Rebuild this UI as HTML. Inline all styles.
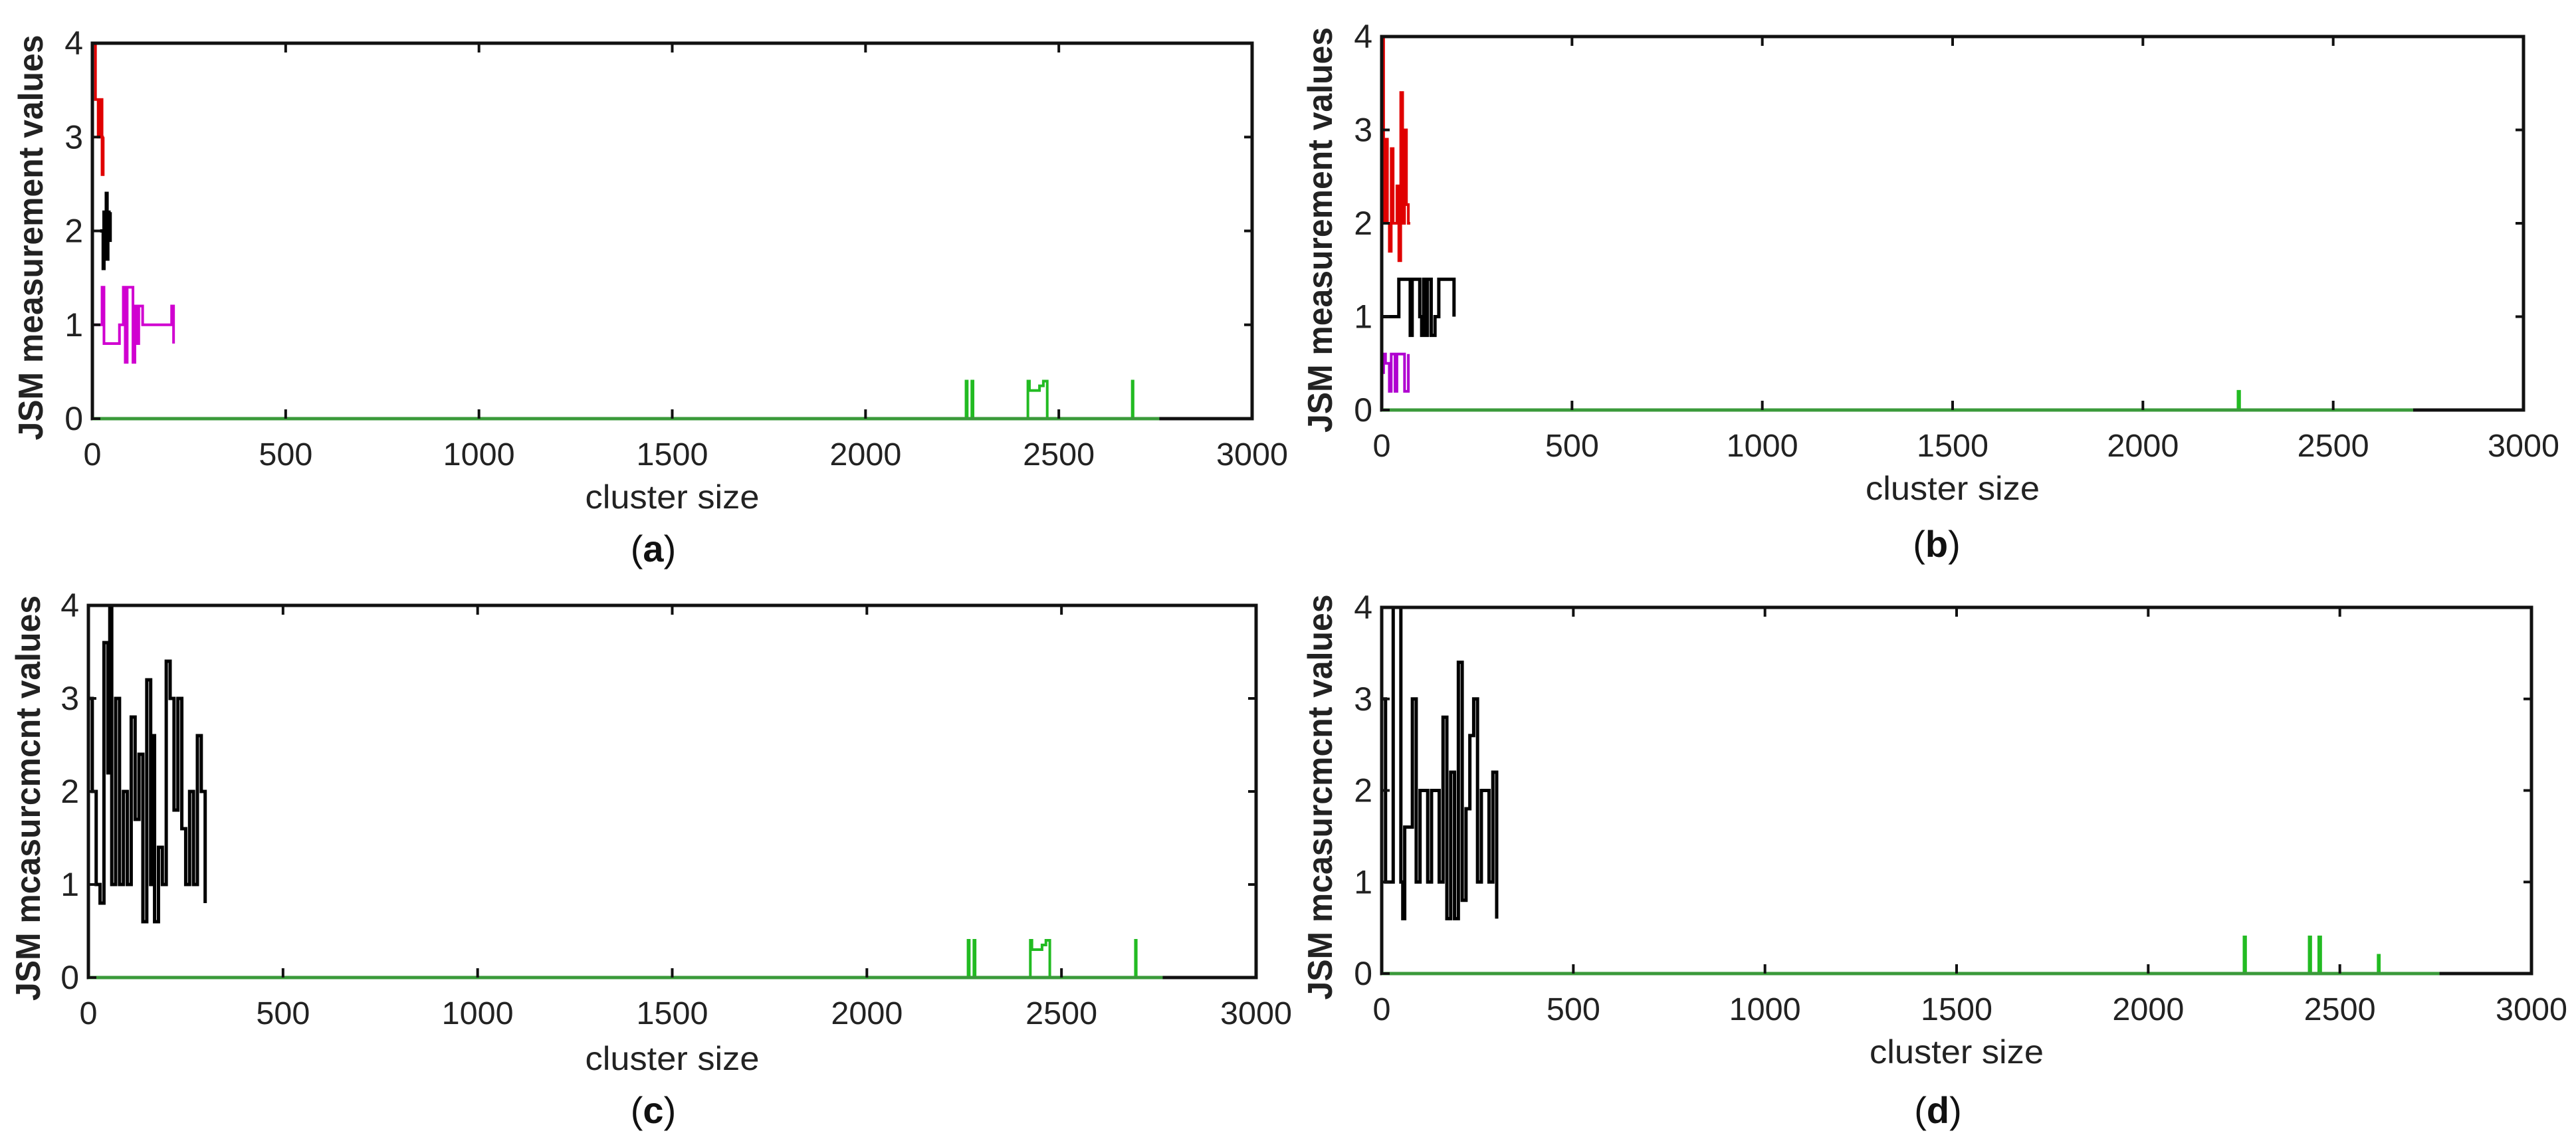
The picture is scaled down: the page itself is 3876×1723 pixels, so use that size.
<!DOCTYPE html>
<html><head><meta charset="utf-8"><style>
html,body{margin:0;padding:0;background:#fff}
svg{display:block}
text{font-family:"Liberation Sans",sans-serif}
</style></head><body>
<svg id="fig" width="3876" height="1723" viewBox="0 0 3876 1723" xmlns="http://www.w3.org/2000/svg"></svg>
<script>
// ---- data ----
const xTicks = [0,500,1000,1500,2000,2500,3000];
const yTicks = [0,1,2,3,4];
// panel a
const aRedX = [0,5,8,12,15,18,20,22,25,28,30];
const aRedY = [4,4,3.4,3.4,3.0,3.4,3.0,3.4,2.6,3.0,3.0];
const aBlackX = [20,25,28,30,33,36,38,40,43,46];
const aBlackY = [2,2,1.6,2.2,1.8,2.4,1.7,2.2,1.9,2.2];
const aMagX = [5,20,25,30,70,80,85,90,100,105,110,115,120,130,200,205,210];
const aMagY = [1,1,1.4,0.8,1,1.4,0.6,1.4,1.4,0.6,1.2,0.8,1.2,1,1,1.2,0.8];
const aGreenX = [0,2260,2263,2275,2278,2420,2424,2450,2460,2470,2690,2692,2760];
const aGreenY = [0,0.4,0,0.4,0,0.4,0.3,0.35,0.4,0,0.4,0,0];
// panel b
const bRedX = [0,5,10,15,20,25,30,40,45,50,55,60,65,70,75];
const bRedY = [4,2,2.9,2,1.7,2.8,2,2.4,1.6,3.4,2,3.0,2.2,2.0,2.0];
const bBlackX = [0,40,45,75,80,100,105,110,115,120,130,140,150,190];
const bBlackY = [1,1,1.4,0.8,1.4,1,0.8,1.4,0.8,1.4,0.8,1,1.4,1];
const bMagX = [0,5,10,20,25,35,40,55,60,70];
const bMagY = [0.4,0.6,0.5,0.2,0.6,0.2,0.6,0.6,0.2,0.6];
const bGreenX = [0,2250,2254,2710];
const bGreenY = [0,0.2,0,0];
// panel c
const cBlackX = [0,10,20,30,40,50,55,60,70,80,90,100,110,120,130,140,150,160,165,170,180,190,200,210,220,230,240,250,260,270,280,290,300];
const cBlackY = [3,2,1,0.8,3.6,2.2,4,1,3,1,2,1,2.8,1.7,2.4,0.6,3.2,1,2.6,0.6,1.4,1,3.4,3,1.8,3,1.6,1,2,1,2.6,2,0.8];
const cGreenX = [0,2260,2263,2275,2278,2420,2424,2450,2460,2470,2690,2692,2760];
const cGreenY = [0,0.4,0,0.4,0,0.4,0.3,0.35,0.4,0,0.4,0,0];
// panel d
const dBlackX = [0,10,20,30,50,55,60,80,90,100,120,130,150,160,170,180,190,200,210,220,230,240,250,260,280,290,300];
const dBlackY = [3,1,1,4,1,0.6,1.6,3,1,2,1,2,1,2.8,0.6,2.2,0.6,3.4,0.8,1.8,2.6,3,1,2,1,2.2,0.6];
const dGreenX = [0,2250,2254,2420,2424,2445,2450,2600,2603,2760];
const dGreenY = [0,0.4,0,0.4,0,0.4,0,0.2,0,0];

const svg = document.getElementById('fig');
const NS = 'http://www.w3.org/2000/svg';
function mk(tag, attrs, parent){const e=document.createElementNS(NS,tag);for(const k in attrs)e.setAttribute(k,attrs[k]);(parent||svg).appendChild(e);return e;}

const panels = [
 {id:'a',L:139,R:1884,T:65,B:630,tickY:700,xlab:765,cap:845,capX:983,ylabX:64,
  series:[[aGreenX,aGreenY,'#22bb22','green-series'],[aMagX,aMagY,'#d000d0','magenta-series'],[aBlackX,aBlackY,'#000','black-series'],[aRedX,aRedY,'#e00000','red-series']]},
 {id:'b',L:2079,R:3797,T:55,B:617,tickY:687,xlab:752,cap:838,capX:2914,ylabX:2004,
  series:[[bGreenX,bGreenY,'#22bb22','green-series'],[bMagX,bMagY,'#b000d0','magenta-series'],[bBlackX,bBlackY,'#000','black-series'],[bRedX,bRedY,'#e00000','red-series']]},
 {id:'c',L:133,R:1890,T:911,B:1471,tickY:1541,xlab:1610,cap:1690,capX:983,ylabX:60,
  series:[[cGreenX,cGreenY,'#22bb22','green-series'],[cBlackX,cBlackY,'#000','black-series']]},
 {id:'d',L:2079,R:3809,T:914,B:1465,tickY:1535,xlab:1600,cap:1690,capX:2916,ylabX:2004,
  series:[[dGreenX,dGreenY,'#22bb22','green-series'],[dBlackX,dBlackY,'#000','black-series']]}
];

panels.forEach(p=>{
  const g = mk('g',{});
  
  
  const sx = v => p.L + (p.R-p.L)*v/3000;
  const sy = v => p.B - (p.B-p.T)*v/4;
  p.series.forEach(s=>{
    const xs=s[0], ys=s[1];
    let d='M'+sx(xs[0])+','+sy(ys[0]);
    for(let i=1;i<xs.length;i++){d+=' H'+sx(xs[i])+' V'+sy(ys[i]);}
    const path = mk('path',{d:d,fill:'none',stroke:s[2],'stroke-width':s[2]==='#000'?5:4},g);
    
    
  });
  const frame = mk('rect',{x:p.L,y:p.T,width:p.R-p.L,height:p.B-p.T,fill:'none',stroke:'#111','stroke-width':5},g);
  
  
  const lastG = p.series[0][0];
  mk('line',{x1:sx(0),x2:sx(lastG[lastG.length-1]),y1:p.B,y2:p.B,stroke:'#3a9a3a','stroke-width':5},g);
  xTicks.forEach(t=>{
    mk('line',{x1:sx(t),x2:sx(t),y1:p.T,y2:p.T+14,stroke:'#111','stroke-width':4},g);
    mk('line',{x1:sx(t),x2:sx(t),y1:p.B,y2:p.B-14,stroke:'#111','stroke-width':4},g);
    const tx = mk('text',{x:sx(t),y:p.tickY,'font-size':48,'text-anchor':'middle',fill:'#222',textLength:String(t).length*27,lengthAdjust:'spacingAndGlyphs'},g);
    tx.textContent=t;
    
    
  });
  yTicks.forEach(t=>{
    mk('line',{x1:p.L,x2:p.L+12,y1:sy(t),y2:sy(t),stroke:'#111','stroke-width':4},g);
    mk('line',{x1:p.R,x2:p.R-12,y1:sy(t),y2:sy(t),stroke:'#111','stroke-width':4},g);
    const ty = mk('text',{x:p.L-14,y:sy(t)+17,'font-size':50,'text-anchor':'end',fill:'#222'},g);
    ty.textContent=t;
    
    
  });
  const xl = mk('text',{x:(p.L+p.R)/2,y:p.xlab,'font-size':50,'text-anchor':'middle',fill:'#222',textLength:262,lengthAdjust:'spacingAndGlyphs'},g);
  xl.textContent='cluster size';
  
  
  const cy=(p.T+p.B)/2+10;
  const yl = mk('text',{x:0,y:0,'font-size':52,'font-weight':'bold','text-anchor':'middle',fill:'#222',transform:'translate('+p.ylabX+' '+cy+') rotate(-90)',textLength:610,lengthAdjust:'spacingAndGlyphs'},g);
  yl.textContent = (p.id==='a'||p.id==='b') ? 'JSM measurement values' : 'JSM mcasurcmcnt values';
  
  
  const cap = mk('text',{x:p.capX,y:p.cap,'font-size':56,'text-anchor':'middle',fill:'#111','font-family':'Liberation Serif, serif'},g);
  cap.innerHTML='(<tspan font-weight="bold">'+p.id+'</tspan>)';
  
  
});
</script>
</body></html>
